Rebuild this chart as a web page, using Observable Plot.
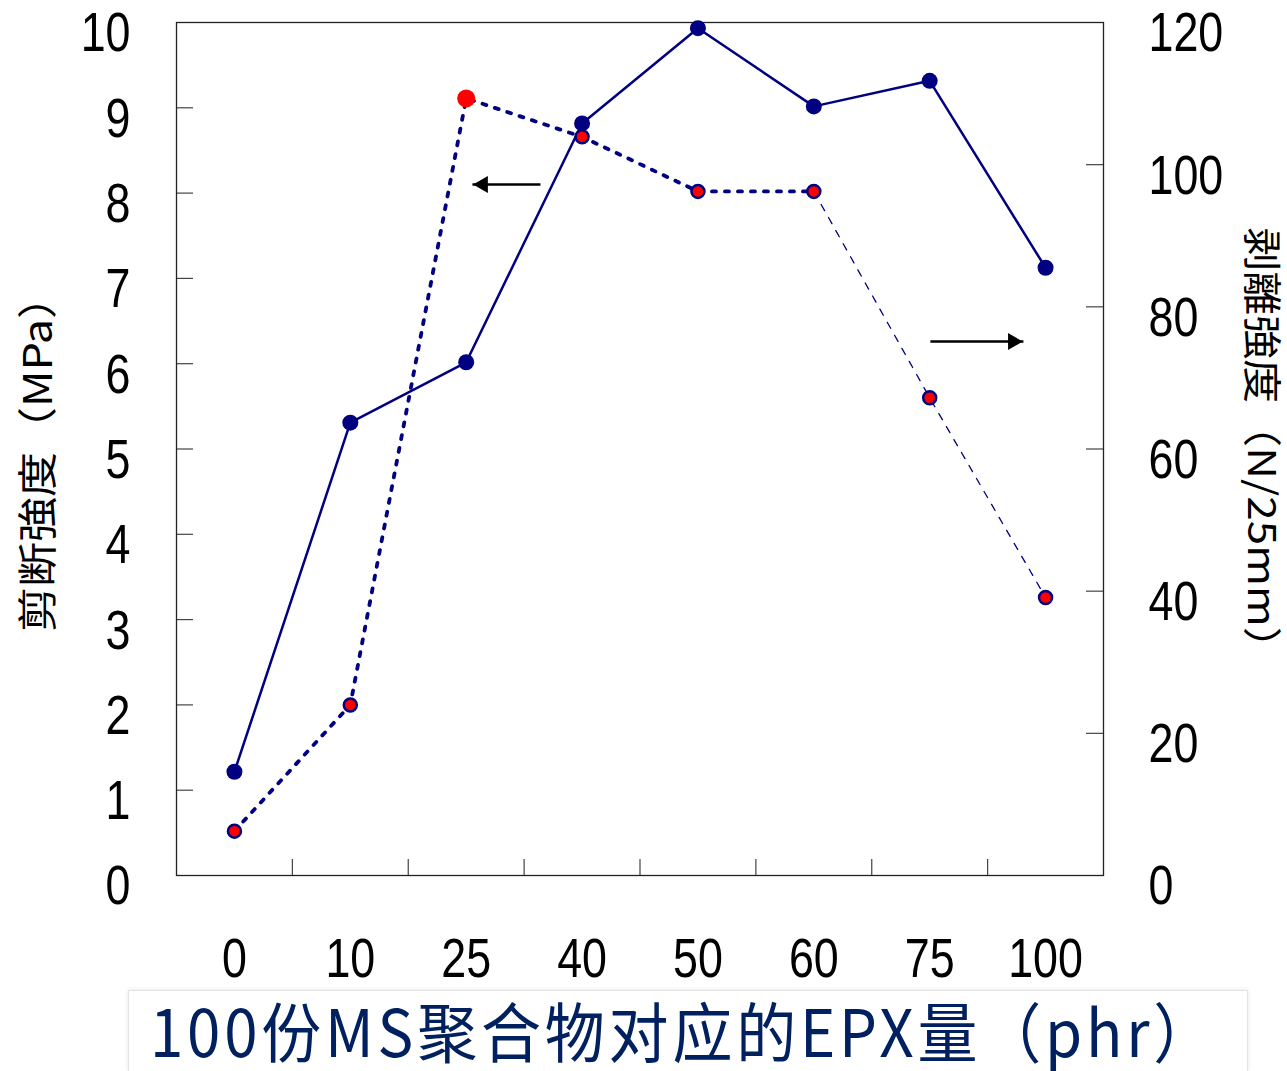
<!DOCTYPE html>
<html><head><meta charset="utf-8">
<script src="https://cdn.jsdelivr.net/npm/d3@7"></script>
<script src="https://cdn.jsdelivr.net/npm/@observablehq/plot@0.6"></script>
<style>
html,body{margin:0;padding:0;background:#fff}
body{width:1287px;height:1071px;overflow:hidden;position:relative}
#chart{position:absolute;left:0;top:0}
#title{position:absolute;left:128px;top:990px;width:1120px;height:81px;border:1px solid #e4e4e4;border-bottom:none;box-shadow:0 0 5px rgba(0,0,0,0.10);background:#fff;box-sizing:border-box}
#title span{position:absolute;left:21px;top:6px;font-family:"Noto Sans CJK SC",sans-serif;font-size:60px;letter-spacing:3.8px;line-height:1;color:#002060;transform:scaleY(1.08);transform-origin:left top;white-space:nowrap}
</style></head><body>
<div id="chart"></div>
<div id="title"><span id="xtitle"></span></div>
<script>
// ---- data ----
const categories = ["0", "10", "25", "40", "50", "60", "75", "100"];
const shearStrength = [0.52, 2.0, 9.11, 8.66, 8.02, 8.02, 5.6, 3.26];      // MPa (left axis, dotted)
const peelStrength = [14.6, 63.7, 72.2, 105.8, 119.2, 108.2, 111.8, 85.5]; // N/25mm (right axis, solid)
const highlightIndex = 2;   // red point without outline
const thinFromIndex = 5;    // dotted line becomes thin from here
const leftTicks = [0, 1, 2, 3, 4, 5, 6, 7, 8, 9, 10];
const rightTicks = [0, 20, 40, 60, 80, 100, 120];
const leftLabel = "剪断強度（MPa）";
const rightLabel = "剥離強度（N/25mm）";
const xTitle = "100份MS聚合物对应的EPX量（phr）";
const arrowsLeft = [{x1: 2.641, x2: 2.054, y: 8.10}];   // points to left axis series
const arrowsRight = [{x1: 6.006, x2: 6.809, y: 6.26}];  // points to right axis series

// ---- chart ----
const ratio = rightTicks[rightTicks.length - 1] / leftTicks[leftTicks.length - 1];
const idx = d3.range(categories.length);
const boundaries = idx.slice(1).map(i => i - 0.5);
const W = 1287, H = 990, mL = 176, mR = 184, mT = 22, mB = 115;
const pw = W - mL - mR, ph = H - mT - mB;
const navy = "#000080";

const svg = Plot.plot({
  width: W, height: H,
  marginLeft: mL, marginRight: mR, marginTop: mT, marginBottom: mB,
  style: {fontFamily: "'Liberation Sans', Arial, sans-serif", background: "#fff", color: "#000"},
  x: {type: "linear", domain: [-0.5, categories.length - 0.5]},
  y: {domain: [leftTicks[0], leftTicks[leftTicks.length - 1]]},
  marks: [
    Plot.tickY(leftTicks.slice(1, -1), {y: d => d, insetRight: pw - 17, stroke: "#444", strokeWidth: 1.2}),
    Plot.tickY(rightTicks.slice(1, -1), {y: d => d / ratio, insetLeft: pw - 17, stroke: "#444", strokeWidth: 1.2}),
    Plot.tickX(boundaries, {x: d => d, insetTop: ph - 16, stroke: "#444", strokeWidth: 1.2}),
    Plot.axisY(leftTicks, {anchor: "left", tickSize: 0, tickPadding: 46, fontSize: 56, dy: 11, label: null, fill: "#000",
      tickFormat: d => String(d)}),
    Plot.axisY(rightTicks.map(v => v / ratio), {anchor: "right", tickSize: 0, tickPadding: 45, fontSize: 56, dy: 11, label: null, fill: "#000",
      tickFormat: d => String(Math.round(d * ratio))}),
    Plot.axisX(idx, {anchor: "bottom", tickSize: 0, tickPadding: 62, fontSize: 56, label: null, fill: "#000",
      tickFormat: i => categories[i]}),
    Plot.frame({stroke: "#222", strokeWidth: 1.3}),
    // solid series (right axis)
    Plot.line(idx, {x: i => i, y: i => peelStrength[i] / ratio, stroke: navy, strokeWidth: 2.5}),
    Plot.dot(idx, {x: i => i, y: i => peelStrength[i] / ratio, r: 8, fill: navy}),
    // dotted series (left axis)
    Plot.line(idx.filter(i => i <= thinFromIndex), {x: i => i, y: i => shearStrength[i], stroke: navy, strokeWidth: 3.8, strokeDasharray: "4,9"}),
    Plot.line(idx.filter(i => i >= thinFromIndex), {x: i => i, y: i => shearStrength[i], stroke: navy, strokeWidth: 1.3, strokeDasharray: "7,8"}),
    Plot.dot(idx.filter(i => i !== highlightIndex), {x: i => i, y: i => shearStrength[i], r: 6.5, fill: "#ff0000", stroke: navy, strokeWidth: 2.5}),
    Plot.dot([highlightIndex], {x: i => i, y: i => shearStrength[i], r: 9, fill: "#ff0000"}),
    // arrows
    Plot.link([...arrowsLeft, ...arrowsRight], {x1: "x1", x2: "x2", y1: "y", y2: "y", stroke: "#000", strokeWidth: 2.5}),
    Plot.dot(arrowsLeft, {x: "x2", y: "y", symbol: "triangle", rotate: -90, r: 6.3, fill: "#000", dx: 10.5}),
    Plot.dot(arrowsRight, {x: "x2", y: "y", symbol: "triangle", rotate: 90, r: 6.3, fill: "#000", dx: -10.5}),
    // axis titles
    Plot.text([leftLabel], {frameAnchor: "left", textAnchor: "middle", rotate: -90, dx: -137, dy: 4, fontSize: 45, fontFamily: "'Noto Sans CJK JP', sans-serif", fill: "#000"}),
    Plot.text([rightLabel], {frameAnchor: "right", textAnchor: "middle", rotate: 90, dx: 157, fontSize: 44, fontFamily: "'Noto Sans CJK JP', sans-serif", fill: "#000"})
  ]
});

// narrow the tick label glyphs like the condensed original font
for (const t of svg.querySelectorAll('g[aria-label$="tick label"] text')) {
  const xa = t.getAttribute("x");
  if (xa != null && !isNaN(+xa)) t.setAttribute("x", +xa / 0.8);
  const tr = t.getAttribute("transform") || "";
  t.setAttribute("transform", `${tr} scale(0.8,1)`);
}
for (const t of svg.querySelectorAll('text')) {
  if (t.textContent === leftLabel || t.textContent === rightLabel) {
    const tr = t.getAttribute("transform") || "";
    t.setAttribute("transform", `${tr} scale(1,0.88)`);
  }
}
document.getElementById("chart").appendChild(svg);
document.getElementById("xtitle").textContent = xTitle;
</script>
</body></html>
